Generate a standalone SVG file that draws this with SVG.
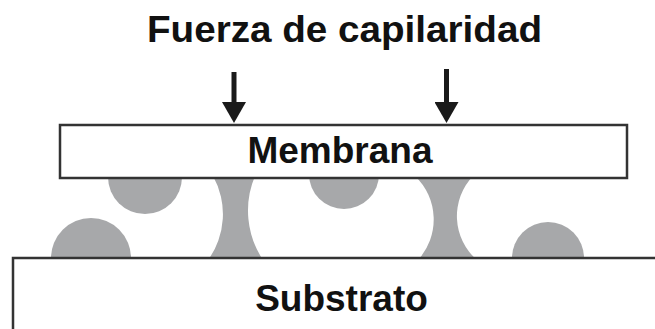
<svg xmlns="http://www.w3.org/2000/svg" width="655" height="329" viewBox="0 0 655 329">
  <style>
    .label { font-family: "Liberation Sans", Arial, sans-serif; font-weight: bold; fill: #111; text-anchor: middle; }
    .liquid { fill: #a7a8aa; }
    .plate { fill: #fff; stroke: #333; stroke-width: 2.5; }
    .force { stroke: #1a1a1a; stroke-width: 5; fill: none; marker-end: url(#head); }
  </style>
  <defs>
    <marker id="head" markerUnits="userSpaceOnUse" viewBox="0 0 21 24" refX="0" refY="12" markerWidth="21" markerHeight="24" orient="auto">
      <path d="M0,0 L21,12 L0,24 Z" fill="#1a1a1a"/>
    </marker>
  </defs>

  <rect width="655" height="329" fill="#fff"/>

  <!-- liquid droplets and capillary bridges -->
  <g id="liquid">
    <circle class="liquid" cx="145" cy="177" r="37"/>
    <circle class="liquid" cx="344" cy="174" r="35"/>
    <circle class="liquid" cx="91" cy="258" r="40"/>
    <circle class="liquid" cx="548" cy="258" r="36"/>
    <path class="liquid" d="M213,176 A78,78 0 0 1 208,260 L263,260 A89,89 0 0 1 255,176 Z"/>
    <path class="liquid" d="M415,176 A60,60 0 0 1 418,260 L477,260 A58,58 0 0 1 473,176 Z"/>
  </g>

  <g id="title">
    <text class="label" x="344.5" y="42" font-size="36" textLength="395" lengthAdjust="spacingAndGlyphs">Fuerza de capilaridad</text>
  </g>

  <g id="membrana">
    <rect class="plate" x="60" y="125" width="567" height="53"/>
    <text class="label" x="340" y="163" font-size="37">Membrana</text>
  </g>

  <g id="substrato">
    <path class="plate" d="M13,331 V258 H657 V331 Z"/>
    <text class="label" x="341.5" y="311" font-size="37">Substrato</text>
  </g>

  <g id="connectors">
    <line class="force" x1="234" y1="72" x2="234" y2="102"/>
    <line class="force" x1="446.5" y1="69" x2="446.5" y2="102"/>
  </g>
</svg>
